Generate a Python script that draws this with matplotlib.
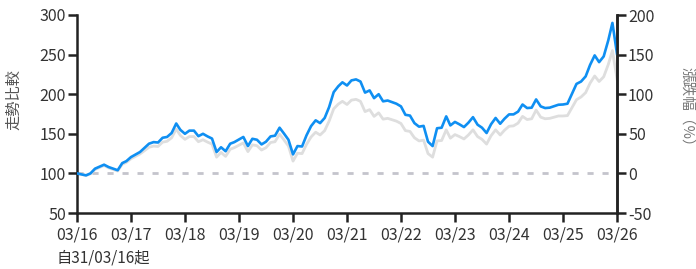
import matplotlib
matplotlib.use("Agg")
import matplotlib.pyplot as plt
import pandas as pd

plt.rcParams['font.family'] = ['Noto Sans CJK TC', 'DejaVu Sans']
plt.rcParams['axes.unicode_minus'] = False

# month offsets from 2016-03-31
months = [0, 2, 3, 4, 6, 7, 9, 10, 11, 12, 14, 16, 17, 18, 19, 20, 21, 22, 23, 24,
          25, 26, 27, 28, 29, 30, 31, 32, 33, 34, 35, 37, 38, 39, 40, 41, 42, 43, 44, 45,
          46, 47, 48, 49, 50, 51, 52, 53, 54, 55, 56, 57, 58, 59, 60, 61, 62, 63, 64, 65,
          66, 67, 68, 69, 71, 72, 73, 74, 75, 76, 77, 78, 79, 80, 81, 82, 83, 84, 85, 86,
          87, 88, 89, 90, 91, 92, 93, 94, 95, 96, 97, 98, 99, 100, 101, 102, 103, 104, 105, 107,
          108, 109, 111, 112, 113, 114, 115, 116, 117, 118, 119, 120]

fund = [100, 97.5, 100, 106, 111, 108, 104, 113, 115.5, 120.6, 127, 137.5, 139.5, 139, 145, 146, 151, 163, 155, 150,
        154, 154, 147, 150, 146.7, 144, 127, 133, 128, 137.5, 139.5, 146, 134.5, 143.7, 142.5, 136.6, 140, 146.7, 147.6, 157.7,
        150, 142.5, 124, 134.5, 134, 148, 159.7, 167, 163.5, 170, 183.7, 202.6, 210, 215, 211, 217.4, 218.7, 216, 202, 204.8,
        195, 200, 191, 192, 188, 184.6, 174, 173, 163.5, 159, 160, 140, 134.5, 157, 157.7, 172, 160.6, 165, 162, 158.5,
        164, 171, 161.5, 157.7, 151, 162, 170, 162.7, 169, 174.5, 174.5, 178, 187, 182.5, 183, 193.4, 184.6, 182.5, 183, 186.7,
        187, 188, 213, 216, 222.5, 237, 249, 240.5, 247.7, 268, 290, 251]

benchmark = [100, 97.5, 99.5, 105, 110, 107, 103, 111.5, 114, 118.5, 124.5, 133, 134.5, 134, 139.5, 140.5, 145, 156, 148, 143,
             146.5, 146.5, 140, 142.5, 139.5, 137, 120.5, 126.5, 121.5, 130.5, 132.5, 138.5, 127.5, 136, 135, 129.5, 132.5, 139, 140, 149.5,
             142, 134.5, 115.5, 125.5, 125, 136.5, 146, 152, 148.5, 154, 166, 181.5, 187.5, 191, 187, 192.5, 193.5, 191, 178, 180.5,
             172, 176.5, 168.5, 169.5, 166, 163, 154, 153, 145, 141, 142, 125, 120.5, 141, 141.5, 155, 144.5, 149, 146.5, 143.5,
             148.5, 155, 146.5, 143, 137, 147.5, 155, 148.5, 154.5, 159.5, 160, 163.5, 172, 168, 169, 180, 171, 169, 169.5, 172.5,
             172.5, 173, 193, 196.5, 202, 214, 223, 216, 222, 237.5, 255, 219.5]

baseline = 100
left_ticks = [50, 100, 150, 200, 250, 300]
right_ticks = [-50, 0, 50, 100, 150, 200]
x_tick_labels = ['03/16', '03/17', '03/18', '03/19', '03/20', '03/21',
                 '03/22', '03/23', '03/24', '03/25', '03/26']

start = pd.Timestamp('2016-03-31')
dates = [start + pd.DateOffset(months=m) for m in months]
tick_dates = [start + pd.DateOffset(years=i) for i in range(len(x_tick_labels))]

fig = plt.figure(figsize=(6.96, 2.69), dpi=100)
ax = fig.add_axes([77/696, 1-213/269, 540/696, 198/269])

ax.plot([tick_dates[0], tick_dates[-1]], [baseline, baseline], color='#c4c4cc',
        lw=2, linestyle=(0, (2.2, 3.2)), zorder=1)
ax.plot(dates, benchmark, color='#dedede', lw=2.0, zorder=2)
ax.plot(dates, fund, color='#0f8ff2', lw=1.9, zorder=3)

ax.set_xlim(tick_dates[0], tick_dates[-1])
ax.set_ylim(50, 300)
ax.set_yticks(left_ticks)
ax.set_xticks(tick_dates)
ax.set_xticklabels(x_tick_labels)

ax.spines['top'].set_visible(False)
for s in ['left', 'bottom', 'right']:
    ax.spines[s].set_color('#222222')
    ax.spines[s].set_linewidth(1.8)

ax.tick_params(axis='both', colors='#222222', labelcolor='#333333', width=1.8,
               length=6.5, labelsize=11.5, pad=1.5)
ax.tick_params(axis='x', pad=3)

ax2 = ax.twinx()
ax2.set_ylim(-50, 200)
ax2.set_yticks(right_ticks)
for s in ['top', 'left', 'bottom']:
    ax2.spines[s].set_visible(False)
ax2.spines['right'].set_color('#222222')
ax2.spines['right'].set_linewidth(1.8)
ax2.tick_params(axis='y', colors='#222222', labelcolor='#333333', width=1.8,
                length=6.5, labelsize=11.5, pad=1.5)

fig.text(14/696, 1-100/269, '走勢比較', rotation=90, fontsize=11,
         color='#555555', ha='center', va='center')
fig.text(687/696, 1-110/269, '漲跌幅（%）', rotation=270, fontsize=10.5,
         color='#777777', ha='center', va='center')
fig.text(57/696, 1-258/269, '自31/03/16起', fontsize=11, color='#333333',
         ha='left', va='center')

fig.savefig('out.png', dpi=100)
